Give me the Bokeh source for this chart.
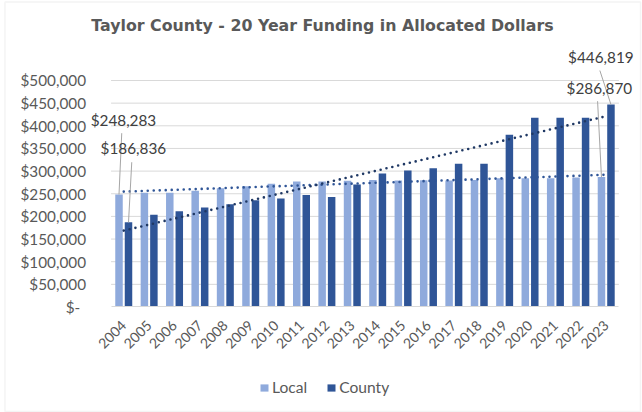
import numpy as np
from bokeh.plotting import figure
from bokeh.models import (Range1d, FixedTicker, Legend, LegendItem, Label, BoxAnnotation,
                          ColumnDataSource)
from bokeh.embed import file_html
from bokeh.resources import INLINE

# ---- data ----
years = ["2004", "2005", "2006", "2007", "2008", "2009", "2010", "2011", "2012", "2013",
         "2014", "2015", "2016", "2017", "2018", "2019", "2020", "2021", "2022", "2023"]
local = [248283, 252000, 252000, 256500, 262000, 266500, 272000, 277000, 277000, 278500,
         280500, 279000, 280000, 279000, 280500, 284400, 284400, 284400, 285900, 286870]
county = [186836, 203500, 211500, 219500, 227000, 235500, 239500, 247500, 243000, 270400,
          294500, 301300, 306400, 316000, 316000, 380000, 417500, 417500, 417500, 446819]
y_ticks = [0, 50000, 100000, 150000, 200000, 250000, 300000, 350000, 400000, 450000, 500000]
y_tick_labels = ["$-\u00a0\u2009", "$50,000", "$100,000", "$150,000", "$200,000", "$250,000",
                 "$300,000", "$350,000", "$400,000", "$450,000", "$500,000"]
title_text = "Taylor County - 20 Year Funding in Allocated Dollars"

LOCAL_C = "#8faadc"
COUNTY_C = "#2f5597"
GRID_C = "#d9d9d9"
TEXT_C = "#595959"
FONT = "Lato"
FS = "15.3px"

n = len(years)
idx = np.arange(n)
bw = 0.295
off = 0.187
src = ColumnDataSource(dict(year=years, xl=idx - off, xc=idx + off, local=local, county=county))

p = figure(width=642, height=412,
           x_range=Range1d(-4.854, 20.429), y_range=Range1d(-232900, 676600),
           output_backend="svg", toolbar_location=None,
           min_border_left=0, min_border_right=0, min_border_top=0, min_border_bottom=0)
p.outline_line_color = None
p.background_fill_color = "white"
p.border_fill_color = "white"

# chart border
p.add_layout(BoxAnnotation(left=-4.679, right=20.35, top=673300, bottom=-230700,
                           fill_alpha=0, line_color=GRID_C, line_width=1.5))

# title
p.add_layout(Label(x=7.826, y=621400, text=title_text, text_align="center",
                   text_baseline="middle", text_font="DejaVu Sans", text_font_style="bold",
                   text_font_size="15.8px", text_color=TEXT_C))

# horizontal gridlines over the category span
gy = y_ticks[1:]
p.segment(x0=[-0.5] * len(gy), y0=gy, x1=[n - 0.5] * len(gy), y1=gy,
          line_color=GRID_C, line_width=1)

# bars
r_local = p.vbar(x="xl", top="local", width=bw, source=src, fill_color=LOCAL_C, line_color=None)
r_county = p.vbar(x="xc", top="county", width=bw, source=src, fill_color=COUNTY_C, line_color=None)

# linear trendlines (as Excel)
for series, col in ((local, "#2f5597"), (county, "#1f3864")):
    a, b = np.polyfit(idx, np.array(series, dtype=float), 1)
    p.line(x=[0.0, float(n - 1)], y=[float(b), float(a * (n - 1) + b)],
           line_color=col, line_width=2.6, line_dash="0 6", line_cap="round")

# data labels with leader lines
last = n - 1
labels = [
    # (index, bar offset, value, label dx, label y, leader top dx, leader top y)
    (0, -off, local[0], -0.012, 411700, -0.079, 383700),
    (0, off, county[0], 0.378, 350500, 0.315, 319600),
    (last, off, county[last], -0.21, 551400, -0.25, 522000),
    (last, -off, local[last], -0.27, 483000, -0.34, 454300),
]
for i, bo, v, ldx, ly, tdx, ty in labels:
    c = float(i)
    p.segment(x0=[c + tdx], y0=[ty], x1=[c + bo], y1=[v], line_color="#a6a6a6", line_width=1)
    p.add_layout(Label(x=c + ldx, y=ly, text=f"${v:,}", text_align="center",
                       text_baseline="middle", text_font=FONT,
                       text_font_size=FS, text_color="#404040"))

# axes
p.yaxis.fixed_location = -0.5
p.yaxis.ticker = FixedTicker(ticks=y_ticks)
p.yaxis.major_label_overrides = {t: s for t, s in zip(y_ticks, y_tick_labels)}
p.yaxis.axis_line_color = None
p.yaxis.major_tick_line_color = None
p.yaxis.minor_tick_line_color = None
p.yaxis.major_label_standoff = 19
p.yaxis.major_label_text_font = FONT
p.yaxis.major_label_text_font_size = FS
p.yaxis.major_label_text_color = TEXT_C

p.xaxis.fixed_location = 0
p.xaxis.bounds = (-0.5, n - 0.5)
p.xaxis.ticker = FixedTicker(ticks=list(range(n)))
p.xaxis.major_label_overrides = {i: y for i, y in enumerate(years)}
p.xaxis.axis_line_color = GRID_C
p.xaxis.axis_line_width = 1
p.xaxis.major_tick_line_color = None
p.xaxis.minor_tick_line_color = None
p.xaxis.major_label_orientation = np.pi / 4
p.xaxis.major_label_standoff = 10
p.xaxis.major_label_text_font = FONT
p.xaxis.major_label_text_font_size = "14px"
p.xaxis.major_label_text_color = TEXT_C

p.xgrid.grid_line_color = None
p.ygrid.grid_line_color = None

legend = Legend(items=[LegendItem(label="Local", renderers=[r_local]),
                       LegendItem(label="County", renderers=[r_county])],
                orientation="horizontal", location=(259, 16),
                glyph_width=10, glyph_height=9, label_standoff=3, spacing=19,
                padding=0, margin=0, border_line_color=None, background_fill_alpha=0,
                label_text_font=FONT, label_text_font_size="15.6px",
                label_text_color=TEXT_C)
p.add_layout(legend)

open("out.html", "w").write(file_html(p, INLINE))
